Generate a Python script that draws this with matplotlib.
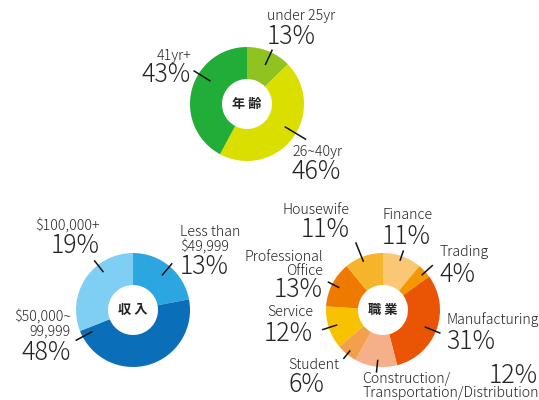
import numpy as np
import matplotlib.pyplot as plt

plt.rcParams['font.family'] = ['Noto Sans CJK JP', 'DejaVu Sans']

# 年齢 (age)
age_labels = ['under 25yr', '26~40yr', '41yr+']
age_pct = [13, 46, 43]
age_colors = ['#8FC31F', '#DADF00', '#22AC38']

# 収入 (income) - wedge shares as drawn, percent text as printed
income_labels = ['Less than\n$49,999', '$50,000~\n99,999', '$100,000+']
income_pct = [13, 48, 19]
income_share = [22, 47, 31]
income_colors = ['#2CA6E0', '#0A6EB8', '#7FCEF4']

# 職業 (occupation)
occ_labels = ['Finance', 'Trading', 'Manufacturing',
              'Construction/\nTransportation/Distribution', 'Student',
              'Service', 'Professional\nOffice', 'Housewife']
occ_pct = [11, 4, 31, 12, 6, 12, 13, 11]
occ_colors = ['#FAC874', '#F39800', '#E95504', '#F5B08A', '#F3A04C',
              '#F8C200', '#EE7B00', '#F6B42A']

W, H = 539, 400
R_OUT, R_IN = 57, 25

fig = plt.figure(figsize=(W / 100, H / 100), dpi=100)
ax = fig.add_axes([0, 0, 1, 1])


def donut(vals, colors, cx, cy, title):
    ax.pie(vals, colors=colors, center=(cx, H - cy), radius=R_OUT,
           startangle=90, counterclock=False,
           wedgeprops=dict(width=R_OUT - R_IN, edgecolor='none'))
    ax.text(cx, H - cy, title, ha='center', va='center', fontsize=9.5,
            fontweight='bold', color='#222222')


def leader(cx, cy, ang, r1, r2):
    t = np.deg2rad(90 - ang)
    ax.plot([cx + r1 * np.cos(t), cx + r2 * np.cos(t)],
            [H - cy + r1 * np.sin(t), H - cy + r2 * np.sin(t)],
            color='#111111', lw=1.1, solid_capstyle='butt')


def label(name, pct, x, y_name, y_pct, ha='left', pct_x=None, pct_ha=None):
    ax.text(x, H - y_name, name, ha=ha, va='center', fontsize=10.2,
            color='#222222', linespacing=1.0, multialignment=ha,
            fontweight='light')
    ax.text(pct_x if pct_x is not None else x, H - y_pct, '%d%%' % pct,
            ha=pct_ha or ha, va='center', fontsize=18, color='#222222',
            fontweight='light')


# top: age
cx, cy = 247, 104
donut(age_pct, age_colors, cx, cy, '年 齢')
leader(cx, cy, 25, 43, 60)
leader(cx, cy, 121, 44, 69)
leader(cx, cy, 302, 43, 63)
label(age_labels[0], age_pct[0], 267, 16, 37)
label(age_labels[1], age_pct[1], 292, 152, 172)
label(age_labels[2], age_pct[2], 191, 56, 75, ha='right')

# bottom left: income
cx, cy = 133, 310
donut(income_share, income_colors, cx, cy, '収 入')
leader(cx, cy, 40, 45, 61)
leader(cx, cy, 242, 46, 65)
leader(cx, cy, 322, 48, 63)
label(income_labels[0], income_pct[0], 180, 240, 267)
label(income_labels[1], income_pct[1], 71, 324, 353, ha='right')
label(income_labels[2], income_pct[2], 100, 226, 246, ha='right')

# bottom right: occupation
cx, cy = 383, 310
donut(occ_pct, occ_colors, cx, cy, '職 業')
for ang, r1, r2 in [(19, 52, 63), (48, 52, 67), (112, 45, 62), (186, 50, 63),
                    (219, 52, 63), (252, 48, 64), (297, 49, 62), (338, 52, 73)]:
    leader(cx, cy, ang, r1, r2)
label(occ_labels[0], occ_pct[0], 382, 215, 237)
label(occ_labels[1], occ_pct[1], 439, 252, 275)
label(occ_labels[2], occ_pct[2], 446, 320, 342)
label(occ_labels[3], occ_pct[3], 362, 386, 376, pct_x=538, pct_ha='right')
label(occ_labels[4], occ_pct[4], 288, 365, 385)
label(occ_labels[5], occ_pct[5], 313, 312, 334, ha='right')
label(occ_labels[6], occ_pct[6], 323, 264, 290, ha='right')
label(occ_labels[7], occ_pct[7], 350, 210, 230, ha='right')

ax.set_xlim(0, W)
ax.set_ylim(0, H)
ax.set_aspect('equal')
ax.axis('off')

fig.savefig('out.png', dpi=100, facecolor='white')
